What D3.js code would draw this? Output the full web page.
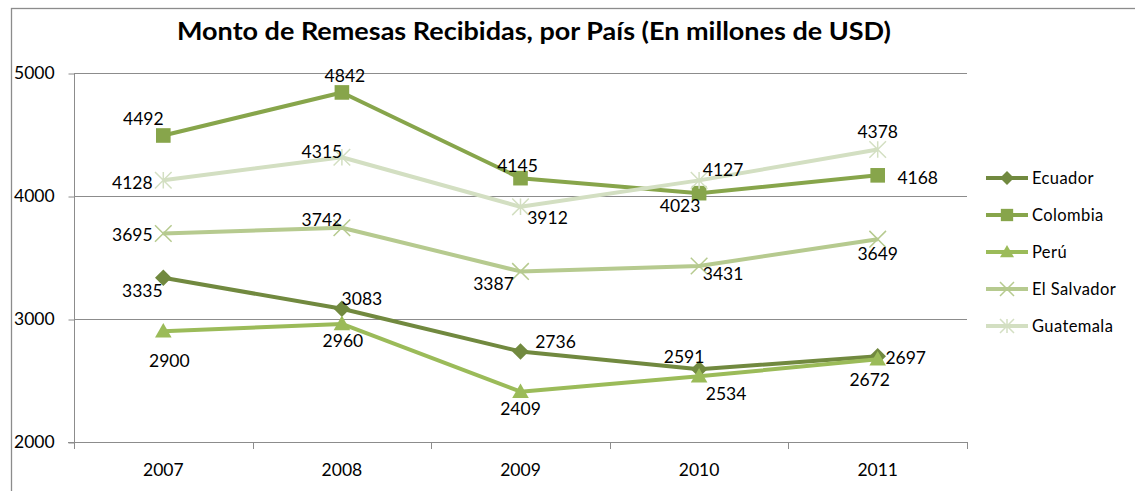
<!DOCTYPE html>
<html lang="es">
<head>
    <meta charset="UTF-8">
    <title>Monto de Remesas Recibidas</title>
    <script src="https://d3js.org/d3.v7.min.js"></script>
    <style>
        body { margin: 0; background: #fff; font-family: Lato, "Open Sans", sans-serif; }
        .grid line { stroke: #8c8c8c; stroke-width: 1; }
        .axis path, .axis line { stroke: #8c8c8c; }
        .lbl { font-size: 17.5px; fill: #000; }
    </style>
</head>
<body>
    <div id="chart"></div>
    <script>
        // Data
        const years = ["2007", "2008", "2009", "2010", "2011"];
        const countries = ["Ecuador", "Colombia", "Perú", "El Salvador", "Guatemala"];
        const ecuador = [3335, 3083, 2736, 2591, 2697];
        const colombia = [4492, 4842, 4145, 4023, 4168];
        const peru = [2900, 2960, 2409, 2534, 2672];
        const elSalvador = [3695, 3742, 3387, 3431, 3649];
        const guatemala = [4128, 4315, 3912, 4127, 4378];
        const yTicks = [2000, 3000, 4000, 5000];

        // data label placement (offset of text centre from the point)
        const labelOffsets = [
            [[-21, 13], [20, -10], [35, -10], [-15, -13], [28, 1]],
            [[-20, -17], [3, -17], [-3, -12], [-19, 13], [40, 2]],
            [[6, 29], [1, 17], [0, 17], [27, 17], [-8, 20]],
            [[-31, 1], [-20, -8], [-27, 12], [24, 8], [0, 15]],
            [[-31, 2], [-20, -6], [27, 11], [24, -11], [0, -18]]
        ];

        const colors = ["#71893f", "#87a54b", "#9bbb59", "#b6ca8f", "#d3dfc2"];
        const markers = ["diamond", "square", "triangle", "x", "star"];
        const seriesValues = [ecuador, colombia, peru, elSalvador, guatemala];

        const W = 1135, H = 491;
        const plot = { left: 74, right: 967, top: 73, bottom: 442 };

        const svg = d3.select("#chart").append("svg")
            .attr("width", W)
            .attr("height", H);

        // chart border
        svg.append("rect")
            .attr("x", 11.5).attr("y", 8.5)
            .attr("width", 1140).attr("height", 500)
            .attr("fill", "none")
            .attr("stroke", "#8c8c8c")
            .attr("stroke-width", 1.3);

        svg.append("text")
            .attr("x", 534).attr("y", 40)
            .attr("text-anchor", "middle")
            .attr("font-size", 24.5)
            .attr("font-weight", "bold")
            .attr("textLength", 714)
            .attr("lengthAdjust", "spacingAndGlyphs")
            .text("Monto de Remesas Recibidas, por País (En millones de USD)");

        const x = d3.scaleBand().domain(years).range([plot.left, plot.right]);
        const y = d3.scaleLinear().domain([2000, 5000]).range([plot.bottom, plot.top]);
        const cx = d => x(d) + x.bandwidth() / 2;

        // gridlines
        svg.append("g")
            .attr("class", "grid")
            .selectAll("line")
            .data(yTicks.slice(1))
            .join("line")
            .attr("x1", plot.left).attr("x2", plot.right)
            .attr("y1", d => Math.round(y(d)) + 0.5)
            .attr("y2", d => Math.round(y(d)) + 0.5);

        // y axis
        const yAxis = svg.append("g")
            .attr("class", "axis")
            .attr("transform", `translate(${plot.left + 0.5},0.5)`)
            .call(d3.axisLeft(y).tickValues(yTicks).tickSize(6).tickFormat(""));
        yAxis.select(".domain").attr("d", `M0,${plot.top}V${plot.bottom}`);
        svg.selectAll(".ylab")
            .data(yTicks)
            .join("text")
            .attr("x", 14)
            .attr("y", d => y(d))
            .attr("dy", "0.36em")
            .attr("font-size", 17.5)
            .text(d => d);

        // x axis, ticks on the category boundaries
        const bounds = years.map(d => x(d)).concat([plot.right]);
        const xAxis = svg.append("g").attr("class", "axis");
        xAxis.append("line")
            .attr("x1", plot.left - 6).attr("x2", plot.right)
            .attr("y1", plot.bottom + 0.5).attr("y2", plot.bottom + 0.5);
        xAxis.selectAll(".tk")
            .data(bounds)
            .join("line")
            .attr("x1", d => Math.round(d) + 0.5).attr("x2", d => Math.round(d) + 0.5)
            .attr("y1", plot.bottom).attr("y2", plot.bottom + 7);
        svg.selectAll(".xlab")
            .data(years)
            .join("text")
            .attr("x", d => cx(d))
            .attr("y", 470)
            .attr("dy", "0.36em")
            .attr("text-anchor", "middle")
            .attr("font-size", 17.5)
            .text(d => d);

        function drawMarker(g, type, color, s) {
            if (type === "diamond") {
                g.append("path").attr("d", `M0,${-s}L${s},0L0,${s}L${-s},0Z`).attr("fill", color);
            } else if (type === "square") {
                g.append("rect").attr("x", -s * 0.88).attr("y", -s * 0.88)
                    .attr("width", s * 1.76).attr("height", s * 1.76).attr("fill", color);
            } else if (type === "triangle") {
                g.append("path").attr("d", `M0,${-s}L${s},${s * 0.75}L${-s},${s * 0.75}Z`).attr("fill", color);
            } else if (type === "x") {
                g.append("path").attr("d", `M${-s},${-s}L${s},${s}M${-s},${s}L${s},${-s}`)
                    .attr("stroke", color).attr("stroke-width", 1.5);
            } else {
                g.append("path").attr("d", `M${-s},${-s}L${s},${s}M${-s},${s}L${s},${-s}M0,${-s}V${s}`)
                    .attr("stroke", color).attr("stroke-width", 1.5);
            }
        }

        const line = d3.line()
            .x((d, i) => cx(years[i]))
            .y(d => y(d));

        seriesValues.forEach((vals, si) => {
            const g = svg.append("g");
            g.append("path")
                .datum(vals)
                .attr("fill", "none")
                .attr("stroke", colors[si])
                .attr("stroke-width", 4)
                .attr("stroke-linejoin", "round")
                .attr("d", line);
            vals.forEach((v, i) => {
                const m = g.append("g").attr("transform", `translate(${cx(years[i])},${y(v)})`);
                drawMarker(m, markers[si], colors[si], 8.3);
            });
        });

        // data labels on top
        seriesValues.forEach((vals, si) => {
            svg.append("g").selectAll("text")
                .data(vals)
                .join("text")
                .attr("class", "lbl")
                .attr("x", (d, i) => cx(years[i]) + labelOffsets[si][i][0])
                .attr("y", (d, i) => y(d) + labelOffsets[si][i][1])
                .attr("dy", "0.36em")
                .attr("text-anchor", "middle")
                .text(d => d);
        });

        // legend
        const rowY = [178, 215, 252, 289, 326];
        countries.forEach((c, i) => {
            const g = svg.append("g").attr("transform", `translate(0,${rowY[i]})`);
            g.append("line")
                .attr("x1", 986).attr("x2", 1028)
                .attr("stroke", colors[i]).attr("stroke-width", 4);
            const m = g.append("g").attr("transform", "translate(1007,0)");
            drawMarker(m, markers[i], colors[i], 7);
            g.append("text")
                .attr("x", 1032)
                .attr("dy", "0.36em")
                .attr("font-size", 16.5)
                .attr("letter-spacing", 0.4)
                .text(c);
        });
    </script>
</body>
</html>
